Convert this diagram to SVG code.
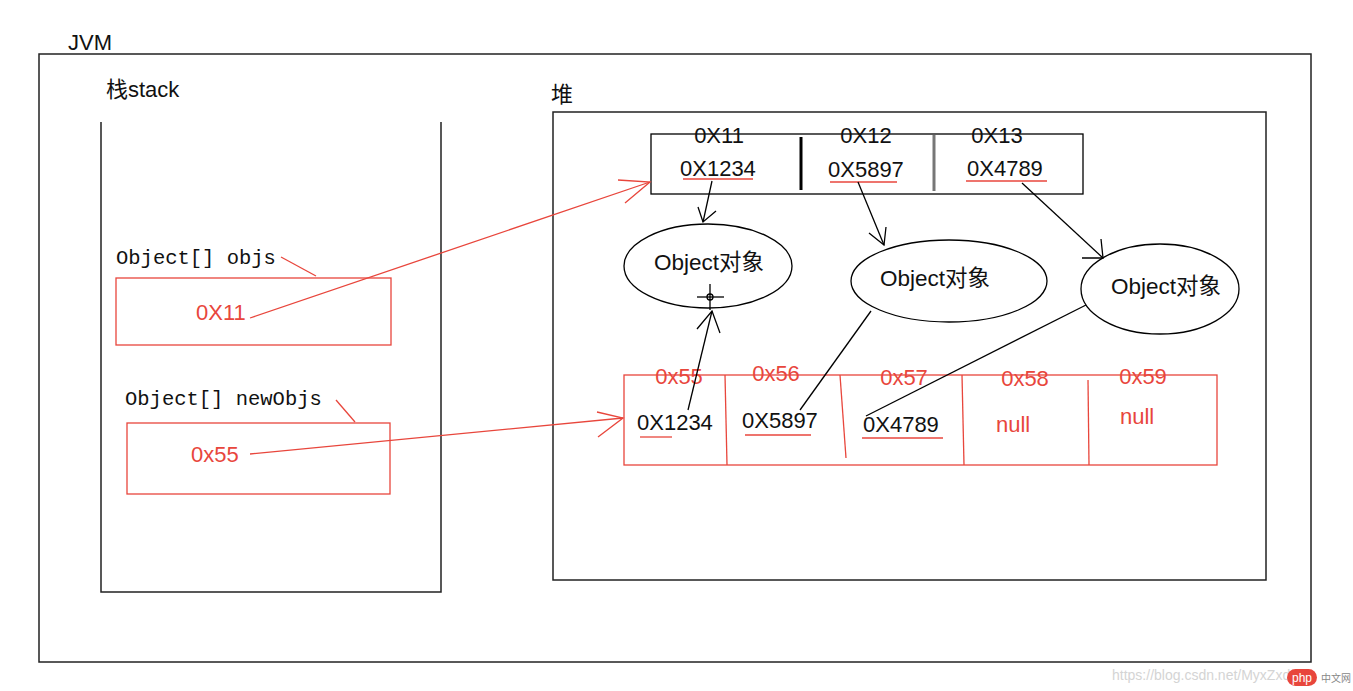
<svg xmlns="http://www.w3.org/2000/svg" width="1353" height="691" viewBox="0 0 1353 691">
<style>
.blk{fill:none;stroke:#000;stroke-width:1.3}
.frame{fill:none;stroke:#222;stroke-width:1.5}
.red{fill:none;stroke:#e8463c;stroke-width:1.3}
.ul{stroke:#e8463c;stroke-width:1.3}
.t{font-family:"Liberation Sans","Noto Sans CJK SC",sans-serif;font-size:22px;fill:#111}
.tr{font-family:"Liberation Sans","Noto Sans CJK SC",sans-serif;font-size:22px;fill:#e8463c}
.m{font-family:"Liberation Mono","DejaVu Sans Mono",monospace;font-size:20.5px;fill:#111}
.obj{font-family:"Liberation Sans","Noto Sans CJK SC",sans-serif;font-size:22.5px;fill:#111;text-anchor:middle}
</style>
<rect width="1353" height="691" fill="#fff"/>
<g id="jvm">
<rect x="39" y="54" width="1272" height="608" class="frame"/>
<text x="68" y="50" class="t">JVM</text>
</g>
<g id="stack">
<path d="M101 122 V592 H441 V122" class="frame"/>
<text x="106" y="97" class="t">栈stack</text>
</g>
<g id="heap">
<rect x="553" y="112" width="713" height="468" class="frame"/>
<text x="551" y="102" class="t">堆</text>
</g>
<g id="objs">
<text x="116" y="264" class="m">Object[] objs</text>
<line x1="281" y1="257" x2="316" y2="276" class="red"/>
<rect x="116" y="278" width="275" height="67" class="red"/>
<text x="196" y="320" class="tr">0X11</text>
</g>
<g id="newObjs">
<text x="125" y="405" class="m">Object[] newObjs</text>
<line x1="336" y1="400" x2="355" y2="422" class="red"/>
<rect x="127" y="423" width="263" height="71" class="red"/>
<text x="191" y="462" class="tr">0x55</text>
</g>
<g id="array1">
<rect x="651" y="134" width="432" height="60" class="blk"/>
<line x1="801" y1="137" x2="801" y2="190" stroke="#000" stroke-width="3"/>
<line x1="934" y1="135" x2="934" y2="191" stroke="#777" stroke-width="3"/>
<text x="719" y="143" class="t" text-anchor="middle">0X11</text>
<text x="866" y="143" class="t" text-anchor="middle">0X12</text>
<text x="997" y="143" class="t" text-anchor="middle">0X13</text>
<text x="680" y="176" class="t">0X1234</text>
<text x="828" y="177" class="t">0X5897</text>
<text x="967" y="176" class="t">0X4789</text>
<line x1="683" y1="179" x2="753" y2="179" class="ul"/>
<line x1="830" y1="182" x2="897" y2="182" class="ul"/>
<line x1="966" y1="181" x2="1047" y2="181" class="ul"/>
</g>
<g id="obj1">
<ellipse cx="708" cy="266" rx="84" ry="42" class="blk"/>
<text x="709" y="270" class="obj">Object对象</text>
</g>
<g id="obj2">
<ellipse cx="949" cy="281" rx="98" ry="41" class="blk"/>
<text x="935" y="286" class="obj">Object对象</text>
</g>
<g id="obj3">
<ellipse cx="1160" cy="289" rx="79" ry="45" class="blk"/>
<text x="1166" y="294" class="obj">Object对象</text>
</g>
<g id="array2">
<rect x="624" y="375" width="593" height="90" class="red"/>
<line x1="725" y1="375" x2="727" y2="465" class="red"/>
<line x1="840" y1="375" x2="846" y2="458" class="red"/>
<line x1="962" y1="375" x2="964" y2="465" class="red"/>
<line x1="1088" y1="380" x2="1089" y2="465" class="red"/>
<text x="679" y="384" class="tr" text-anchor="middle">0x55</text>
<text x="776" y="381" class="tr" text-anchor="middle">0x56</text>
<text x="904" y="385" class="tr" text-anchor="middle">0x57</text>
<text x="1025" y="386" class="tr" text-anchor="middle">0x58</text>
<text x="1143" y="384" class="tr" text-anchor="middle">0x59</text>
<text x="637" y="430" class="t">0X1234</text>
<text x="742" y="428" class="t">0X5897</text>
<text x="863" y="432" class="t">0X4789</text>
<text x="996" y="432" class="tr">null</text>
<text x="1120" y="424" class="tr">null</text>
<line x1="640" y1="437" x2="672" y2="437" class="ul"/>
<line x1="745" y1="435" x2="811" y2="435" class="ul"/>
<line x1="862" y1="438" x2="943" y2="438" class="ul"/>
</g>
<g id="connectors">
<line x1="250" y1="318" x2="650" y2="182" class="red"/>
<path d="M618 180 L650 182 L625 203" class="red"/>
<line x1="250" y1="454" x2="623" y2="418" class="red"/>
<path d="M597 412 L623 418 L598 437" class="red"/>
<line x1="712" y1="181" x2="703" y2="222" class="blk"/>
<path d="M698 207 L703 222 L716 211" class="blk"/>
<line x1="858" y1="182" x2="884" y2="245" class="blk"/>
<path d="M886 227 L884 245 L869 233" class="blk"/>
<line x1="1022" y1="183" x2="1103" y2="258" class="blk"/>
<path d="M1101 239 L1103 258 L1082 258" class="blk"/>
<line x1="688" y1="410" x2="712" y2="311" class="blk"/>
<path d="M697 329 L712 311 L720 333" class="blk"/>
<line x1="800" y1="410" x2="871" y2="311" class="blk"/>
<line x1="866" y1="416" x2="1086" y2="305" class="blk"/>
<circle cx="710" cy="297" r="3" class="blk"/>
<line x1="697" y1="297" x2="724" y2="297" class="blk"/>
<line x1="710" y1="284" x2="710" y2="310" class="blk"/>
</g>
<g id="watermark">
<text x="1112" y="680" font-family="Liberation Sans,sans-serif" font-size="14" fill="#d4d4d4">https://blog.csdn.net/MyxZxd</text>
<rect x="1287" y="669" width="30" height="17" rx="8.5" fill="#e8463c"/>
<text x="1302" y="682" font-family="Liberation Sans,sans-serif" font-size="12" fill="#fff" text-anchor="middle">php</text>
<text x="1321" y="682" font-family="Noto Sans CJK SC,sans-serif" font-size="10" fill="#888">中文网</text>
</g>
</svg>
